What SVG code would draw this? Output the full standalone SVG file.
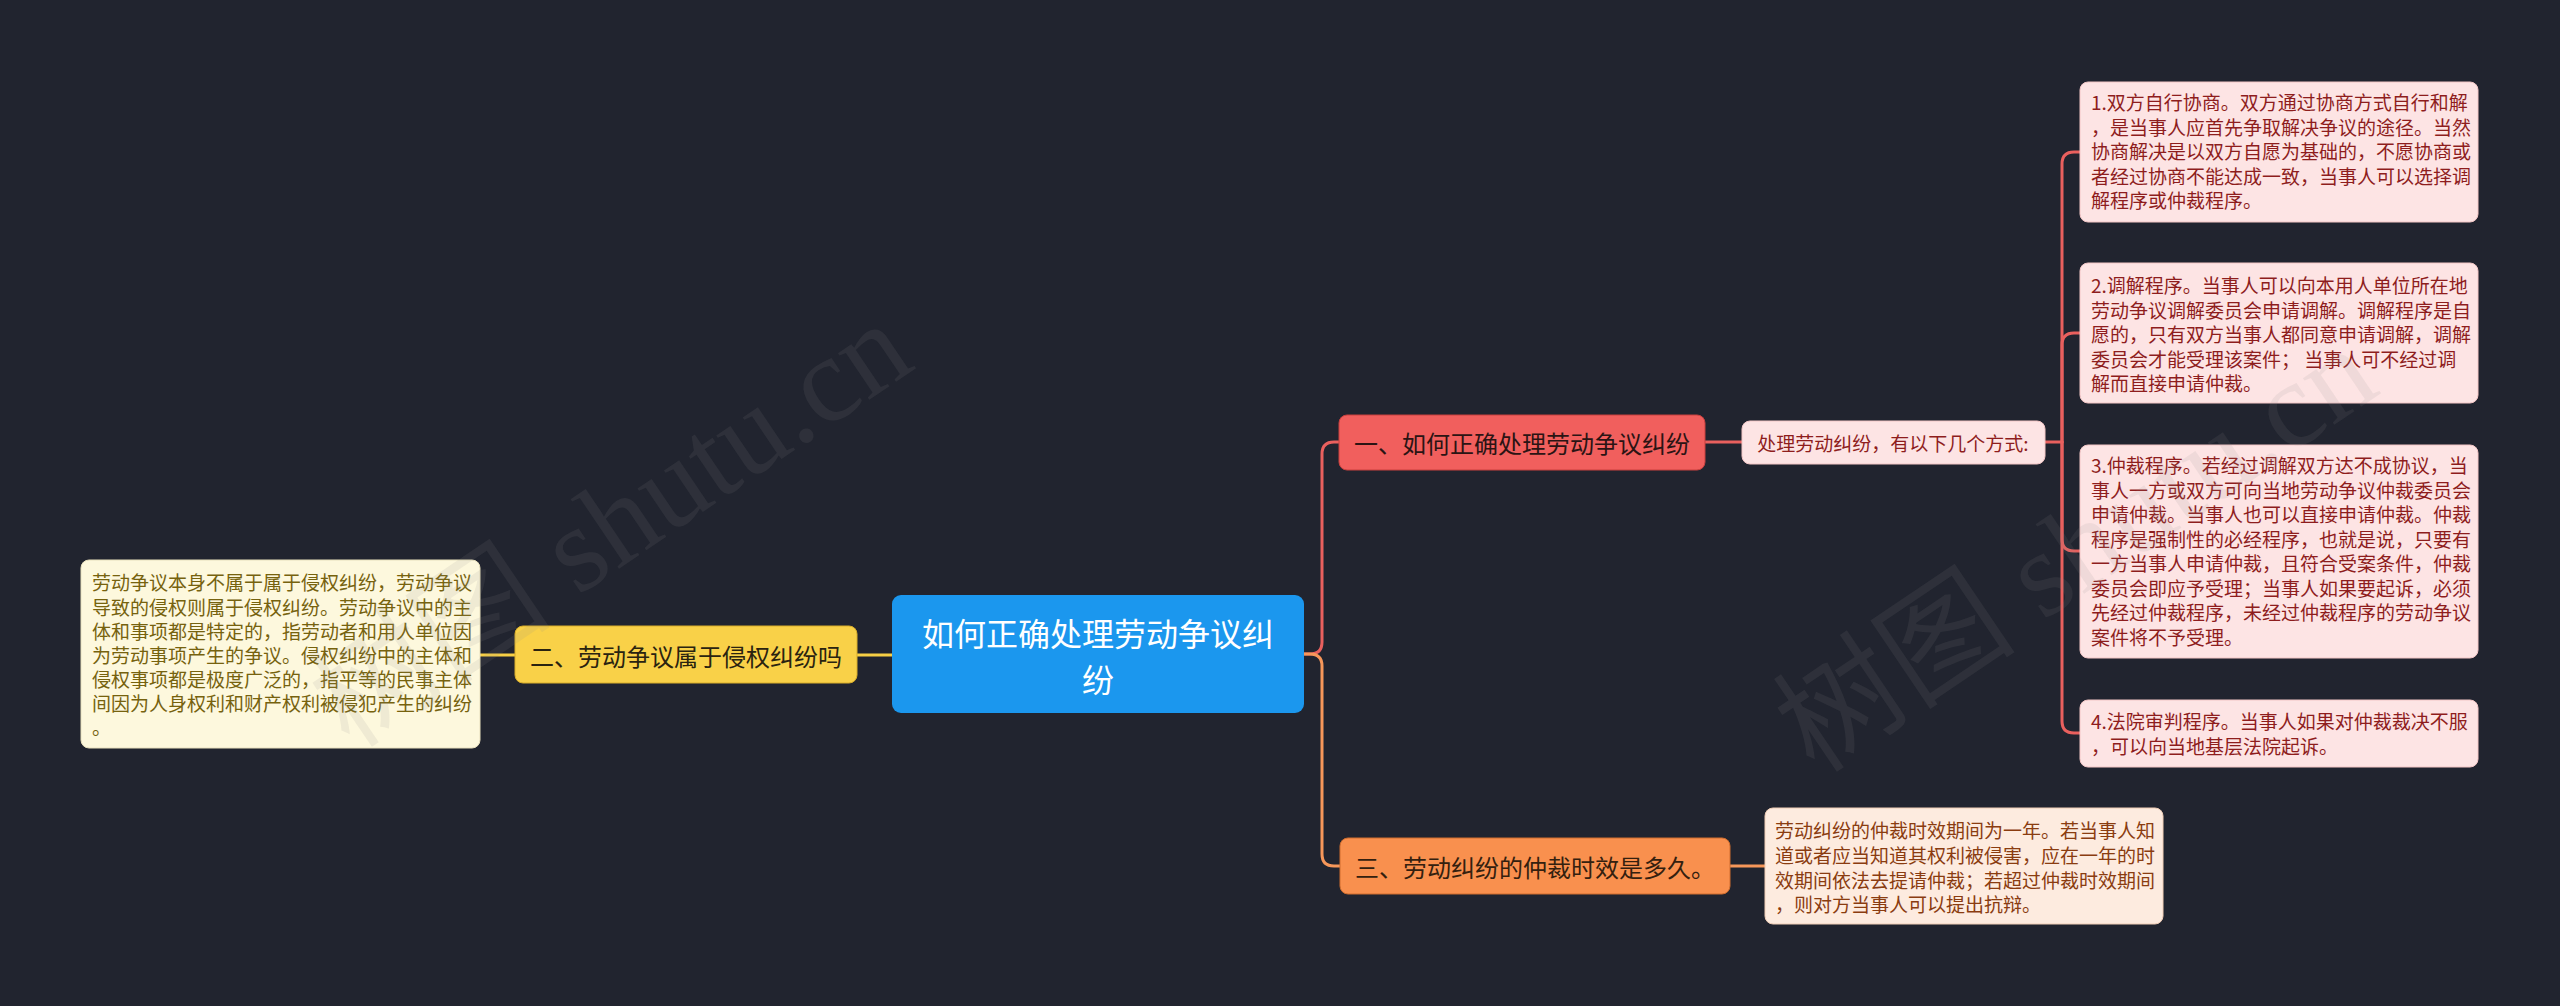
<svg xmlns="http://www.w3.org/2000/svg" width="2560" height="1006" viewBox="0 0 2560 1006">
<defs>
<style>
.t{font-family:"Microsoft YaHei","Noto Sans CJK SC","Noto Sans",sans-serif;}
.c{text-anchor:middle;dominant-baseline:central;}
.ln{fill:none;stroke-width:3;stroke-linecap:round;stroke-linejoin:round;}
.red{stroke:#e9605e;}
.yel{stroke:#f7cf45;}
.org{stroke:#f6975a;}
.pinkbox{fill:#fde4e4;stroke:#f3c6c6;stroke-width:1;}
.pinktxt{fill:#8e1d1d;font-size:19px;}
.wm{font-family:"Liberation Serif","Noto Sans CJK SC",serif;font-size:122px;fill:#8a8a8a;fill-opacity:0.12;}
</style>
</defs>
<rect width="2560" height="1006" fill="#21242f"/>

<g id="connectors">
<path class="ln yel" d="M857 655 H892"/>
<path class="ln yel" d="M480 655 H515"/>
<path class="ln red" d="M1304 654 H1310 Q1322 654 1322 642 V454 Q1322 442 1334 442 H1339"/>
<path class="ln org" d="M1304 654 H1310 Q1322 654 1322 666 V854 Q1322 866 1334 866 H1340"/>
<path class="ln red" d="M1705 442 H1742"/>
<path class="ln red" d="M2045 442 H2062"/>
<path class="ln red" d="M2062 442 V164 Q2062 152 2074 152 H2080"/>
<path class="ln red" d="M2062 442 V345 Q2062 333 2074 333 H2080"/>
<path class="ln red" d="M2062 442 V539 Q2062 551 2074 551 H2080"/>
<path class="ln red" d="M2062 442 V721 Q2062 733 2074 733 H2080"/>
<path class="ln org" d="M1730 866 H1765"/>
</g>

<g id="root">
<rect x="892" y="595" width="412" height="118" rx="9" fill="#1b97ee"/>
<text class="t c" x="1098" y="632" font-size="32" fill="#ffffff">如何正确处理劳动争议纠</text>
<text class="t c" x="1098" y="678" font-size="32" fill="#ffffff">纷</text>
</g>

<g id="n2">
<rect x="515" y="626" width="342" height="57" rx="8" fill="#f9d148" stroke="#d9ad2a" stroke-width="1"/>
<text class="t c" x="686" y="655" font-size="24" fill="#2a2310">二、劳动争议属于侵权纠纷吗</text>
</g>

<g id="n2a">
<rect x="81" y="560" width="399" height="188" rx="8" fill="#fdf8dd" stroke="#e8e0bd" stroke-width="1"/>
<g class="t" font-size="19" fill="#76620e">
<text x="92" y="590">劳动争议本身不属于属于侵权纠纷，劳动争议</text>
<text x="92" y="615">导致的侵权则属于侵权纠纷。劳动争议中的主</text>
<text x="92" y="639">体和事项都是特定的，指劳动者和用人单位因</text>
<text x="92" y="663">为劳动事项产生的争议。侵权纠纷中的主体和</text>
<text x="92" y="687">侵权事项都是极度广泛的，指平等的民事主体</text>
<text x="92" y="711">间因为人身权利和财产权利被侵犯产生的纠纷</text>
<text x="92" y="735">。</text>
</g>
</g>

<g id="n1">
<rect x="1339" y="415" width="366" height="55" rx="8" fill="#f15f5d" stroke="#c9403e" stroke-width="1"/>
<text class="t c" x="1522" y="442" font-size="24" fill="#2b1414">一、如何正确处理劳动争议纠纷</text>
</g>

<g id="n1a">
<rect class="pinkbox" x="1742" y="421" width="303" height="43" rx="8"/>
<text class="t c pinktxt" x="1893" y="442">处理劳动纠纷，有以下几个方式:</text>
</g>

<g id="n1a1">
<rect class="pinkbox" x="2080" y="82" width="398" height="140" rx="8"/>
<g class="t pinktxt">
<text x="2091" y="110">1.双方自行协商。双方通过协商方式自行和解</text>
<text x="2091" y="135">，是当事人应首先争取解决争议的途径。当然</text>
<text x="2091" y="159">协商解决是以双方自愿为基础的，不愿协商或</text>
<text x="2091" y="184">者经过协商不能达成一致，当事人可以选择调</text>
<text x="2091" y="208">解程序或仲裁程序。</text>
</g>
</g>

<g id="n1a2">
<rect class="pinkbox" x="2080" y="263" width="398" height="140" rx="8"/>
<g class="t pinktxt">
<text x="2091" y="293">2.调解程序。当事人可以向本用人单位所在地</text>
<text x="2091" y="318">劳动争议调解委员会申请调解。调解程序是自</text>
<text x="2091" y="342">愿的，只有双方当事人都同意申请调解，调解</text>
<text x="2091" y="367">委员会才能受理该案件； 当事人可不经过调</text>
<text x="2091" y="391">解而直接申请仲裁。</text>
</g>
</g>

<g id="n1a3">
<rect class="pinkbox" x="2080" y="445" width="398" height="213" rx="8"/>
<g class="t pinktxt">
<text x="2091" y="473">3.仲裁程序。若经过调解双方达不成协议，当</text>
<text x="2091" y="498">事人一方或双方可向当地劳动争议仲裁委员会</text>
<text x="2091" y="522">申请仲裁。当事人也可以直接申请仲裁。仲裁</text>
<text x="2091" y="547">程序是强制性的必经程序，也就是说，只要有</text>
<text x="2091" y="571">一方当事人申请仲裁，且符合受案条件，仲裁</text>
<text x="2091" y="596">委员会即应予受理；当事人如果要起诉，必须</text>
<text x="2091" y="620">先经过仲裁程序，未经过仲裁程序的劳动争议</text>
<text x="2091" y="645">案件将不予受理。</text>
</g>
</g>

<g id="n1a4">
<rect class="pinkbox" x="2080" y="700" width="398" height="67" rx="8"/>
<g class="t pinktxt">
<text x="2091" y="729">4.法院审判程序。当事人如果对仲裁裁决不服</text>
<text x="2091" y="754">，可以向当地基层法院起诉。</text>
</g>
</g>

<g id="n3">
<rect x="1340" y="838" width="390" height="56" rx="8" fill="#f9904e" stroke="#d06d2e" stroke-width="1"/>
<text class="t c" x="1535" y="866" font-size="24" fill="#34200f">三、劳动纠纷的仲裁时效是多久。</text>
</g>

<g id="n3a">
<rect x="1765" y="808" width="398" height="116" rx="8" fill="#fdebdf" stroke="#f0cdb6" stroke-width="1"/>
<g class="t" font-size="19" fill="#8a3c10">
<text x="1775" y="838">劳动纠纷的仲裁时效期间为一年。若当事人知</text>
<text x="1775" y="863">道或者应当知道其权利被侵害，应在一年的时</text>
<text x="1775" y="888">效期间依法去提请仲裁；若超过仲裁时效期间</text>
<text x="1775" y="912">，则对方当事人可以提出抗辩。</text>
</g>
</g>

<g id="watermark">
<text class="wm" transform="translate(350 750) rotate(-34)">树图 shutu.cn</text>
<text class="wm" transform="translate(1815 775) rotate(-34)">树图 shutu.cn</text>
</g>
</svg>
